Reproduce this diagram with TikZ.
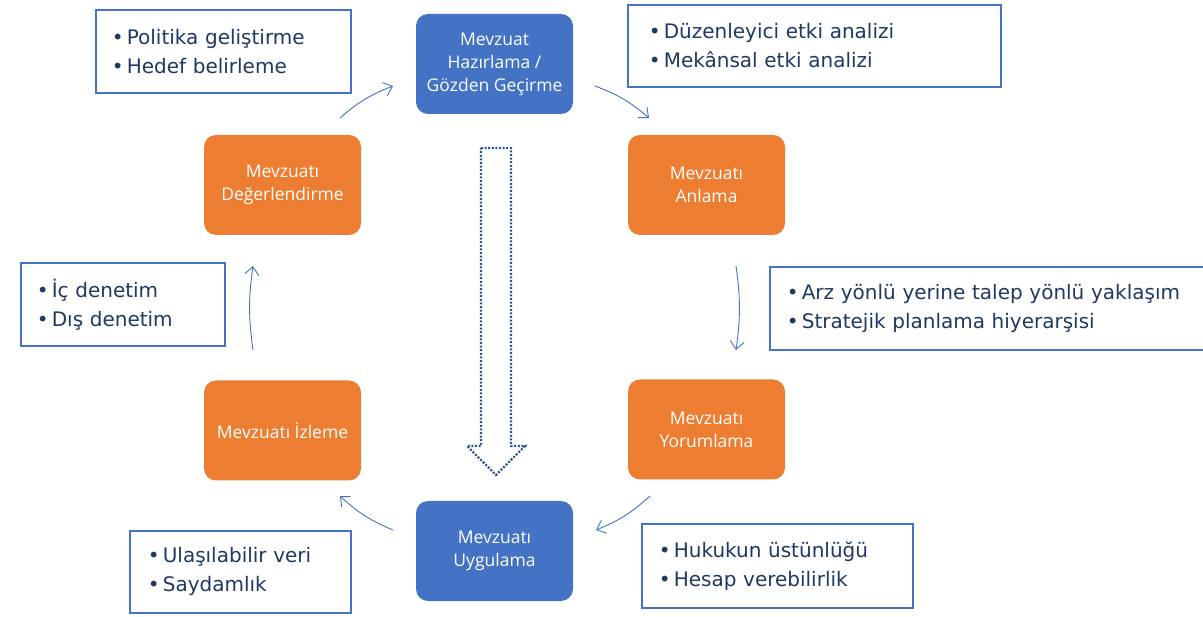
\documentclass[tikz,border=0pt]{standalone}
\usepackage{fontspec}
\setmainfont{DejaVu Sans}
\newfontfamily\stagefont{Open Sans}
\usetikzlibrary{arrows.meta}
\definecolor{stblue}{HTML}{4472C4}
\definecolor{storange}{HTML}{ED7D31}
\definecolor{navy}{HTML}{1F3864}
\definecolor{dotblue}{HTML}{2F5597}
\newcommand{\bl}{\makebox[15pt][l]{•}}
\tikzset{
  stage/.style={rounded corners=12pt, minimum width=157pt, minimum height=100pt, inner sep=0pt,
    text=white, align=center, font=\stagefont\fontsize{17.5}{23}\selectfont},
  bluestage/.style={stage, fill=stblue},
  orangestage/.style={stage, fill=storange},
  info/.style={draw=stblue, line width=1.6pt, fill=white, text=navy, anchor=north west,
    align=left, inner ysep=0pt, font=\fontsize{20}{29}\selectfont},
  flow/.style={draw=stblue, line width=0.9pt, -{Straight Barb[length=8pt,width=14pt]}},
  bigarrow/.style={draw=dotblue, line width=2.2pt, dash pattern=on 2pt off 1.6pt}
}
\begin{document}
\begin{tikzpicture}[x=1pt,y=-1pt]
\useasboundingbox (0,0) rectangle (1203,617);

% stages
\node[bluestage] (prep) at (494.5,64) {Mevzuat\\Hazırlama /\\Gözden Geçirme};
\node[orangestage] (anla) at (706.5,185) {Mevzuatı\\Anlama};
\node[orangestage] (yoru) at (706.5,429.5) {Mevzuatı\\Yorumlama};
\node[bluestage] (uygu) at (494.5,551) {Mevzuatı\\Uygulama};
\node[orangestage] (izle) at (282.5,430.5) {Mevzuatı İzleme};
\node[orangestage] (degr) at (282.5,185) {Mevzuatı\\Değerlendirme};

% info boxes
\node[info, minimum width=255pt, minimum height=83pt, inner xsep=16pt, text width=223pt] (b1) at (95,9)
  {\bl Politika geliştirme\\\bl Hedef belirleme};
\node[info, minimum width=373pt, minimum height=82pt, inner xsep=21pt, text width=331pt] (b2) at (627,4)
  {\bl Düzenleyici etki analizi\\\bl Mekânsal etki analizi};
\node[info, minimum width=434pt, minimum height=83pt, inner xsep=17pt, text width=400pt] (b3) at (769,266)
  {\bl Arz yönlü yerine talep yönlü yaklaşım\\\bl Stratejik planlama hiyerarşisi};
\node[info, minimum width=204pt, minimum height=83pt, inner xsep=16pt, text width=172pt] (b4) at (20,262)
  {\bl İç denetim\\\bl Dış denetim};
\node[info, minimum width=221pt, minimum height=82pt, inner xsep=18pt, text width=185pt] (b5) at (129,530)
  {\bl Ulaşılabilir veri\\\bl Saydamlık};
\node[info, minimum width=271pt, minimum height=84pt, inner xsep=17pt, text width=237pt] (b6) at (641,523)
  {\bl Hukukun üstünlüğü\\\bl Hesap verebilirlik};

% cycle arrows
\coordinate (a1s) at (340,118); \coordinate (a1e) at (393,86);
\coordinate (a2s) at (595,86);  \coordinate (a2e) at (649,118);
\coordinate (a3s) at (736,266); \coordinate (a3e) at (736,350);
\coordinate (a4s) at (650,496); \coordinate (a4e) at (596,530);
\coordinate (a5s) at (393,530); \coordinate (a5e) at (340,496);
\coordinate (a6s) at (253,350); \coordinate (a6e) at (253,266);
\draw[flow] (a1s) to[bend left=10] (a1e);
\draw[flow] (a2s) to[bend left=10] (a2e);
\draw[flow] (a3s) to[bend left=8] (a3e);
\draw[flow] (a4s) to[bend left=10] (a4e);
\draw[flow] (a5s) to[bend left=10] (a5e);
\draw[flow] (a6s) to[bend left=8] (a6e);

% central dotted arrow
\draw[bigarrow] (481,148) -- (511,148) -- (511,446) -- (525,446) -- (496,475) -- (467,446) -- (481,446) -- cycle;
\end{tikzpicture}
\end{document}
